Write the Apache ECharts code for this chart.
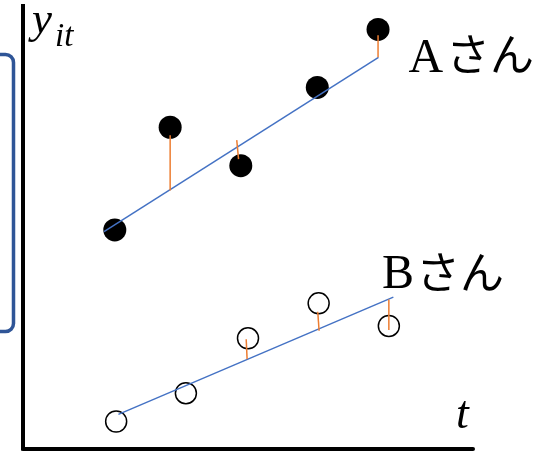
<!DOCTYPE html>
<html>
<head>
<meta charset="utf-8">
<script src="https://cdn.jsdelivr.net/npm/echarts@6/dist/echarts.min.js"></script>
<style>
  html, body { margin: 0; padding: 0; background: #fff; }
  #chart { width: 539px; height: 451px; }
</style>
</head>
<body>
<div id="chart"></div>
<script>
// Observations for person A (filled) and person B (hollow)
const tA = [2.04, 3.27, 4.84, 6.54, 7.89];
const yA = [4.94, 7.26, 6.39, 8.16, 9.47];
const tB = [2.07, 3.62, 5.00, 6.57, 8.13];
const yB = [0.61, 1.25, 2.49, 3.28, 2.77];

// Fitted lines: [t, y] at the two ends
const fitA = [[1.80, 4.90], [7.90, 8.84]];
const fitB = [[2.12, 0.77], [8.23, 3.42]];

// Residual segments between observation and fitted line
const residA = [
  [[3.27, 7.08], [3.27, 5.83]],
  [[4.75, 6.97], [4.79, 6.54]],
  [[7.89, 9.34], [7.89, 8.84]]
];
const residB = [
  [[4.96, 2.47], [4.98, 2.02]],
  [[6.55, 3.09], [6.58, 2.66]],
  [[8.13, 3.37], [8.13, 2.68]]
];

const labelA = ['A', 'さん'];
const labelB = ['B', 'さん'];
const axisY = ['y', 'it'];
const axisT = 't';

const zip = (xs, ys) => xs.map((x, i) => [x, ys[i]]);

const fitStyle = { color: '#4472C4', width: 1.5 };
const residStyle = { color: '#ED7D31', width: 1.5 };

const segSeries = (seg, style) => ({
  type: 'line',
  data: seg,
  symbol: 'none',
  lineStyle: style,
  silent: true,
  animation: false,
  z: 3
});

const chart = echarts.init(document.getElementById('chart'), null, { renderer: 'canvas' });

const serif = '"Liberation Serif", "DejaVu Serif", serif';
const jp = '"Noto Sans CJK JP", sans-serif';

chart.setOption({
  animation: false,
  grid: { left: 23, top: 6, width: 450, height: 442.5 },
  xAxis: {
    type: 'value', min: 0, max: 10,
    axisLine: { show: true, onZero: false, lineStyle: { color: '#000', width: 4 } },
    axisTick: { show: false }, axisLabel: { show: false }, splitLine: { show: false }
  },
  yAxis: {
    type: 'value', min: 0, max: 10,
    axisLine: { show: true, onZero: false, lineStyle: { color: '#000', width: 4, cap: 'square' } },
    axisTick: { show: false }, axisLabel: { show: false }, splitLine: { show: false }
  },
  series: [
    {
      type: 'scatter',
      data: zip(tA, yA),
      symbol: 'circle',
      symbolSize: 23,
      itemStyle: { color: '#000', opacity: 1 },
      z: 2
    },
    {
      type: 'scatter',
      data: zip(tB, yB),
      symbol: 'circle',
      symbolSize: 21,
      itemStyle: { color: 'rgba(0,0,0,0)', borderColor: '#000', borderWidth: 1.5, opacity: 1 },
      z: 2
    },
    segSeries(fitA, fitStyle),
    segSeries(fitB, fitStyle),
    ...residA.map(s => segSeries(s, residStyle)),
    ...residB.map(s => segSeries(s, residStyle))
  ],
  graphic: [
    {
      type: 'rect',
      shape: { x: -20, y: 54.5, width: 33.5, height: 277, r: 8 },
      style: { fill: 'none', stroke: '#2F5597', lineWidth: 3.5 }
    },
    { type: 'text', x: 32, y: 21, style: { text: axisY[0], font: 'italic 45px ' + serif, fill: '#000', verticalAlign: 'middle' } },
    { type: 'text', x: 55, y: 37, style: { text: axisY[1], font: 'italic 33px ' + serif, fill: '#000', verticalAlign: 'middle' } },
    { type: 'text', x: 456, y: 416, style: { text: axisT, font: 'italic 46px ' + serif, fill: '#000', verticalAlign: 'middle' } },
    { type: 'text', x: 408.5, y: 58.9, style: { text: labelA[0], font: '48px ' + serif, fill: '#000', verticalAlign: 'middle' } },
    { type: 'text', x: 446, y: 54.5, style: { text: labelA[1], font: '44px ' + jp, fill: '#000', verticalAlign: 'middle' } },
    { type: 'text', x: 382, y: 275.8, style: { text: labelB[0], font: '48px ' + serif, fill: '#000', verticalAlign: 'middle' } },
    { type: 'text', x: 416, y: 272.5, style: { text: labelB[1], font: '44px ' + jp, fill: '#000', verticalAlign: 'middle' } }
  ]
});
</script>
</body>
</html>
